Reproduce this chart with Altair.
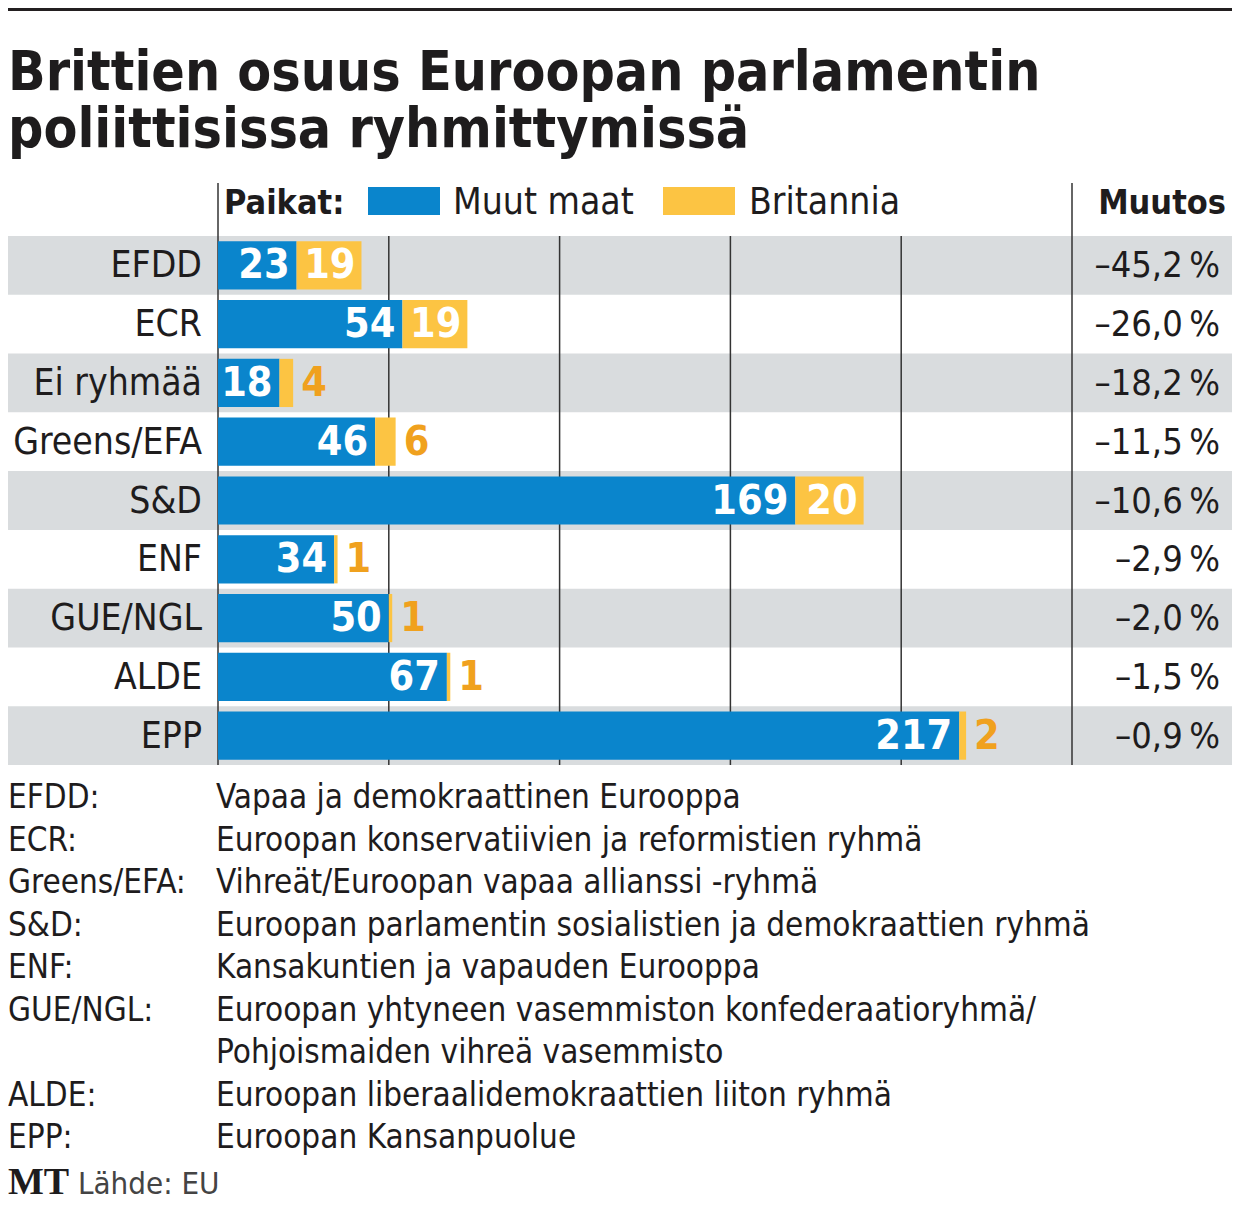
import altair as alt
import pandas as pd

# ---- data -------------------------------------------------------------
groups = ["EFDD", "ECR", "Ei ryhmää", "Greens/EFA", "S&D", "ENF", "GUE/NGL", "ALDE", "EPP"]
muut_maat = [23, 54, 18, 46, 169, 34, 50, 67, 217]
britannia = [19, 19, 4, 6, 20, 1, 1, 1, 2]
muutos = [-45.2, -26.0, -18.2, -11.5, -10.6, -2.9, -2.0, -1.5, -0.9]
grid_values = [0, 50, 100, 150, 200, 250]

title_lines = ["Brittien osuus Euroopan parlamentin", "poliittisissa ryhmittymissä"]
abbr_lines_a = ["EFDD:", "ECR:", "Greens/EFA:", "S&D:", "ENF:", "GUE/NGL:"]
abbr_lines_b = ["ALDE:", "EPP:"]
desc_lines = [
    "Vapaa ja demokraattinen Eurooppa",
    "Euroopan konservatiivien ja reformistien ryhmä",
    "Vihreät/Euroopan vapaa allianssi -ryhmä",
    "Euroopan parlamentin sosialistien ja demokraattien ryhmä",
    "Kansakuntien ja vapauden Eurooppa",
    "Euroopan yhtyneen vasemmiston konfederaatioryhmä/",
    "Pohjoismaiden vihreä vasemmisto",
    "Euroopan liberaalidemokraattien liiton ryhmä",
    "Euroopan Kansanpuolue",
]
source_text = "Lähde: EU"

# ---- styling ----------------------------------------------------------
F = 'DejaVu Sans Condensed, "Liberation Sans Narrow", sans-serif'
BLUE = "#0a85cc"
YELLOW = "#fcc443"
ORANGE = "#f0a11e"
GREY = "#d9dcde"
INK = "#1e1c1d"
W, H = 1224, 1195
NOTE_LH = 42.5
NOTE_Y = 800

df = pd.DataFrame({
    "group": groups,
    "muut": muut_maat,
    "brit": britannia,
})
df["total"] = df["muut"] + df["brit"]
df["row"] = range(len(df))
df["pct"] = ["–" + f"{abs(v):.1f}".replace(".", ",") + "\u2009%" for v in muutos]

grid_df = pd.DataFrame({"v": grid_values})
one = pd.DataFrame({"k": [0]})

X = alt.Scale(domain=[0, 250], range=[210, 1064], nice=False, zero=True)
Y = alt.Scale(domain=groups, range=[228, 757], paddingInner=0, paddingOuter=0)
y_enc = alt.Y("group:N", scale=Y, axis=None)

base = alt.Chart(df)

bg = base.transform_filter("datum.row % 2 == 0").mark_rect(color=GREY).encode(
    y=y_enc, x=alt.value(0), x2=alt.value(W)
)

grid_inner = alt.Chart(grid_df).transform_filter("datum.v > 0 && datum.v < 250").mark_rule(
    color="#333333", strokeWidth=1.5
).encode(x=alt.X("v:Q", scale=X, axis=None), y=alt.value(228), y2=alt.value(757))

grid_outer = alt.Chart(grid_df).transform_filter("datum.v == 0 || datum.v == 250").mark_rule(
    color="#333333", strokeWidth=1.5
).encode(x=alt.X("v:Q", scale=X, axis=None), y=alt.value(175), y2=alt.value(757))

bar_blue = base.mark_bar(color=BLUE, height={"band": 0.82}).encode(
    y=y_enc, x=alt.X("muut:Q", scale=X, axis=None)
)
bar_yellow = base.mark_bar(color=YELLOW, height={"band": 0.82}).encode(
    y=y_enc, x=alt.X("muut:Q", scale=X, axis=None), x2="total:Q"
)

lbl_blue = base.mark_text(
    align="right", baseline="middle", dx=-7, dy=1, font=F, fontWeight="bold", fontSize=41, color="white"
).encode(y=y_enc, x=alt.X("muut:Q", scale=X, axis=None), text="muut:Q")

lbl_brit_in = base.transform_filter("datum.brit >= 10").mark_text(
    align="right", baseline="middle", dx=-6, dy=1, font=F, fontWeight="bold", fontSize=41, color="white"
).encode(y=y_enc, x=alt.X("total:Q", scale=X, axis=None), text="brit:Q")

lbl_brit_out = base.transform_filter("datum.brit < 10").mark_text(
    align="left", baseline="middle", dx=8, dy=1, font=F, fontWeight="bold", fontSize=41, color=ORANGE
).encode(y=y_enc, x=alt.X("total:Q", scale=X, axis=None), text="brit:Q")

row_lbl = base.mark_text(
    align="right", baseline="middle", dy=1, font=F, fontSize=37, color=INK
).encode(y=y_enc, x=alt.value(194), text="group:N")

pct_lbl = base.mark_text(
    align="right", baseline="middle", dy=1, font=F, fontSize=36, color=INK
).encode(y=y_enc, x=alt.value(1212), text="pct:N")

# ---- decorations ------------------------------------------------------
top_bar = alt.Chart(one).mark_rect(color="#231f20").encode(
    x=alt.value(0), x2=alt.value(W), y=alt.value(0), y2=alt.value(3)
)

title = alt.Chart(one).mark_text(
    text=title_lines, align="left", baseline="alphabetic", lineHeight=57,
    font=F, fontWeight="bold", fontSize=55, color=INK
).encode(x=alt.value(0), y=alt.value(82))

def txt(s, x, y, size, bold=False, align="left", color=INK, lh=None):
    kw = dict(text=s, align=align, baseline="alphabetic", font=F, fontSize=size, color=color)
    if bold:
        kw["fontWeight"] = "bold"
    if lh is not None:
        kw["lineHeight"] = lh
    return alt.Chart(one).mark_text(**kw).encode(x=alt.value(x), y=alt.value(y))

leg_paikat = txt("Paikat:", 216, 206, 34, bold=True)
leg_muut = txt("Muut maat", 445, 206, 37)
leg_brit = txt("Britannia", 741, 206, 37)
leg_muutos = txt("Muutos", 1218, 206, 34, bold=True, align="right")

sw_blue = alt.Chart(one).mark_rect(color=BLUE).encode(
    x=alt.value(360), x2=alt.value(432), y=alt.value(179), y2=alt.value(207)
)
sw_yellow = alt.Chart(one).mark_rect(color=YELLOW).encode(
    x=alt.value(655), x2=alt.value(727), y=alt.value(179), y2=alt.value(207)
)

notes_abbr_a = txt(abbr_lines_a, 0, NOTE_Y, 33, lh=NOTE_LH)
notes_abbr_b = txt(abbr_lines_b, 0, NOTE_Y + 7 * NOTE_LH, 33, lh=NOTE_LH)
notes_desc = txt(desc_lines, 208, NOTE_Y, 33, lh=NOTE_LH)

logo = alt.Chart(one).mark_text(
    text="MT", align="left", baseline="alphabetic", font='"Liberation Serif", serif',
    fontWeight="bold", fontSize=38, color=INK
).encode(x=alt.value(0), y=alt.value(1186))
source = txt(source_text, 70, 1186, 31, color="#444444")

chart = alt.layer(
    bg, grid_inner, grid_outer, bar_blue, bar_yellow,
    lbl_blue, lbl_brit_in, lbl_brit_out, row_lbl, pct_lbl,
    top_bar, title, leg_paikat, leg_muut, leg_brit, leg_muutos, sw_blue, sw_yellow,
    notes_abbr_a, notes_abbr_b, notes_desc, logo, source,
).properties(
    width=W, height=H, padding=0, autosize=alt.AutoSizeParams(type="none"), background="white"
).configure_view(strokeWidth=0)

chart.save("out.html", embed_options={"renderer": "svg", "actions": False})
